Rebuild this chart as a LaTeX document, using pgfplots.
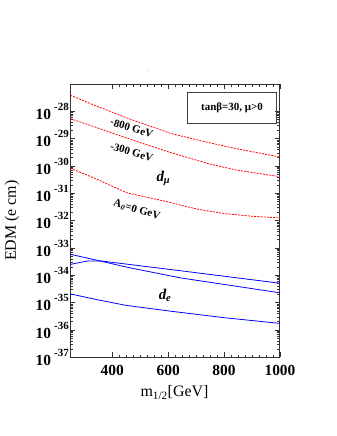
\documentclass[border=0pt]{standalone}
\usepackage{pgfplots}
\pgfplotsset{compat=1.18}
\usepackage{fontspec}
\setmainfont{Liberation Serif}
\newcommand{\yl}[1]{\textbf{10}\hspace{3pt}\raisebox{9pt}{\fontsize{11}{11}\selectfont\textbf{#1}}}
\begin{document}
\begin{tikzpicture}
\path[use as bounding box] (-70.3bp,-78.7bp) rectangle (266.7bp,357.3bp);
\begin{axis}[
  at={(0,0)}, anchor=south west,
  scale only axis, width=209.7bp, height=273.3bp,
  xmin=250, xmax=1000, ymode=log, ymin=1e-37, ymax=1e-27,
  xtick={400,600,800,1000}, minor x tick num=7,
  xticklabel style={/pgf/number format/1000 sep={}},
  ytickten={-37,-36,-35,-34,-33,-32,-31,-30,-29,-28},
  yticklabels={\yl{-37},\yl{-36},\yl{-35},\yl{-34},\yl{-33},\yl{-32},\yl{-31},\yl{-30},\yl{-29},\yl{-28}},
  tick align=inside, tick pos=both,
  major tick length=5bp, minor tick length=2.5bp,
  axis line style={line width=1pt, black!80},
  every tick/.style={black!80, line width=0.7pt},
  xticklabel style={font=\fontsize{15.5}{15.5}\selectfont\bfseries, yshift=-4pt},
  yticklabel style={font=\fontsize{15.5}{15.5}\selectfont, xshift=2pt},
  /pgf/number format/assume math mode=true,
  xlabel={m\textsubscript{1/2}[GeV]},
  xlabel style={font=\fontsize{16}{16}\selectfont, at={(axis description cs:0.497,-0.145)}, anchor=base},
  ylabel={EDM (e cm)},
  ylabel style={font=\fontsize{16}{16}\selectfont, at={(axis description cs:-0.278,0.5)}, anchor=center},
  clip=false,
]
% d_mu, A0=-800
\addplot[red, line width=0.8pt, dash pattern=on 2pt off 1.2pt] coordinates {
(250,3.89e-28) (332,1.74e-28) (452,5.75e-29) (607,1.58e-29) (726,7.94e-30) (845,4.27e-30) (1000,2.14e-30)};
% A0=-300
\addplot[red, line width=0.8pt, dash pattern=on 2pt off 1.2pt] coordinates {
(250,5.37e-29) (332,2.82e-29) (452,1.05e-29) (606,3.16e-30) (750,1.17e-30) (845,7.08e-31) (1000,4.07e-31)};
% A0=0
\addplot[red, line width=0.8pt, dash pattern=on 2pt off 1.2pt] coordinates {
(250,8.32e-31) (333,3.72e-31) (452,1.05e-31) (606,4.68e-32) (700,2.69e-32) (800,1.82e-32) (900,1.45e-32) (1000,1.26e-32)};
% d_e
\addplot[blue, line width=0.8pt] coordinates {
(250,5.89e-34) (350,3.47e-34) (460,1.91e-34) (642,8.13e-35) (1000,2.29e-35)};
\addplot[blue, line width=0.8pt] coordinates {
(250,2.51e-34) (309,3.31e-34) (356,3.39e-34) (642,1.48e-34) (1000,5.13e-35)};
\addplot[blue, line width=0.8pt] coordinates {
(250,2.09e-35) (350,1.26e-35) (450,7.94e-36) (607,4.90e-36) (800,2.82e-36) (1000,1.74e-36)};
% annotations
\draw[black!75, line width=0.7pt] (rel axis cs:0.558,0.857) rectangle (rel axis cs:0.984,0.970);
\node[font=\fontsize{11}{11}\selectfont\bfseries] at (rel axis cs:0.771,0.913) {tanβ=30, μ>0};
\node[font=\fontsize{11}{11}\selectfont\bfseries, rotate=-17] at (rel axis cs:0.293,0.839) {-800 GeV};
\node[font=\fontsize{11}{11}\selectfont\bfseries, rotate=-17] at (rel axis cs:0.293,0.751) {-300 GeV};
\node[font=\fontsize{11}{11}\selectfont\bfseries, rotate=-17] at (rel axis cs:0.317,0.539) {A\textsubscript{\textit{0}}=0 GeV};
\node[font=\fontsize{15}{15}\selectfont\bfseries\itshape] at (rel axis cs:0.444,0.655) {d\textsubscript{μ}};
\node[font=\fontsize{15}{15}\selectfont\bfseries\itshape] at (rel axis cs:0.452,0.228) {d\textsubscript{e}};
\node[font=\tiny] at (rel axis cs:0.37,1.045) {.};
\end{axis}
\end{tikzpicture}
\end{document}
